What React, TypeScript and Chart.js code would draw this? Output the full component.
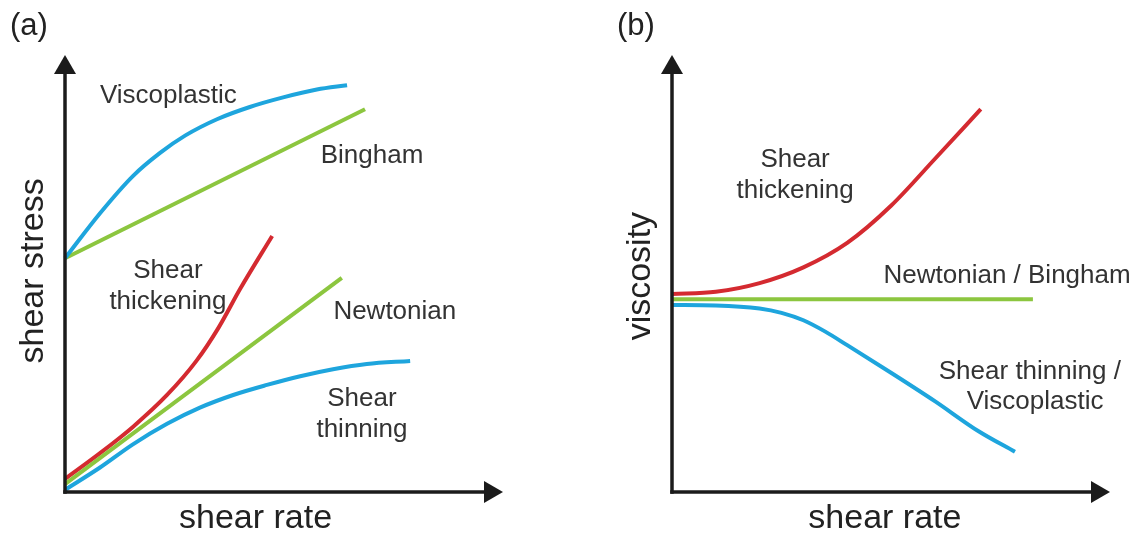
import React, { useEffect, useRef } from "react";
import { Chart, registerables } from "chart.js";

Chart.register(...registerables);

// ---------- Panel (a): shear stress vs shear rate ----------
const viscoplasticX = [0, 8.0, 15.5, 21.7, 27.5, 34.7, 42.2, 49.8, 57.5, 64.4];
const viscoplasticY = [53.5, 63.8, 72.3, 77.6, 81.6, 85.3, 88.1, 90.3, 92.1, 93.1];
const binghamX = [0, 68.5];
const binghamY = [53.5, 87.6];
const thickeningAX = [0, 8.0, 15.5, 23.3, 30.0, 35.0, 40.0, 47.3];
const thickeningAY = [3.0, 8.9, 14.9, 22.2, 30.0, 37.5, 46.5, 58.6];
const newtonianX = [0, 63.2];
const newtonianY = [1.8, 49.0];
const thinningAX = [0, 8.0, 15.5, 23.3, 30.8, 38.4, 46.1, 53.7, 61.2, 68.9, 78.8];
const thinningAY = [0.5, 5.6, 10.9, 15.6, 19.3, 22.2, 24.5, 26.5, 28.1, 29.3, 30.0];

// ---------- Panel (b): viscosity vs shear rate ----------
const thickeningBX = [0, 10, 20, 30, 40, 50, 60, 70.5];
const thickeningBY = [45.3, 45.8, 47.8, 51.4, 57.0, 65.5, 76.2, 87.6];
const newtonianBX = [0, 82.4];
const newtonianBY = [44.1, 44.1];
const thinningBX = [0, 10, 20, 25, 30, 35, 40, 50, 60, 70, 78.3];
const thinningBY = [42.8, 42.7, 42.0, 41.0, 39.3, 36.7, 33.6, 27.3, 20.8, 13.9, 9.2];

// ---------- Text ----------
const labelsA = [
  { text: "Viscoplastic", x: 23.6, y: 89.0 },
  { text: "Bingham", x: 70.1, y: 75.3 },
  { text: "Shear", x: 23.5, y: 49.0 },
  { text: "thickening", x: 23.5, y: 41.9 },
  { text: "Newtonian", x: 75.3, y: 39.6 },
  { text: "Shear", x: 67.8, y: 19.7 },
  { text: "thinning", x: 67.8, y: 12.6 },
];
const labelsB = [
  { text: "Shear", x: 28.1, y: 74.4 },
  { text: "thickening", x: 28.1, y: 67.3 },
  { text: "Newtonian / Bingham", x: 76.5, y: 47.8 },
  { text: "Shear thinning /", x: 81.7, y: 25.9 },
  { text: "Viscoplastic", x: 82.9, y: 18.9 },
];

const BLUE = "#1ea5dd";
const RED = "#d42a30";
const GREEN = "#8cc63f";
const FONT = '"Liberation Sans", Arial, Helvetica, sans-serif';

const zip = (xs: number[], ys: number[]) => xs.map((x, i) => ({ x, y: ys[i] }));

const decorPlugin = {
  id: "decor",
  afterDatasetsDraw(chart: any, _args: any, opts: any) {
    const { ctx, chartArea, scales } = chart;
    const { left, right, top, bottom } = chartArea;
    const xs = scales.x;
    const ys = scales.y;
    ctx.save();
    // axes with arrowheads
    const lw = 3.5;
    ctx.strokeStyle = "#1b1b1b";
    ctx.fillStyle = "#1b1b1b";
    ctx.lineWidth = lw;
    ctx.lineCap = "butt";
    ctx.beginPath();
    ctx.moveTo(left, bottom + lw / 2);
    ctx.lineTo(left, top + 16);
    ctx.stroke();
    ctx.beginPath();
    ctx.moveTo(left - lw / 2, bottom);
    ctx.lineTo(right - 16, bottom);
    ctx.stroke();
    ctx.beginPath();
    ctx.moveTo(left, top);
    ctx.lineTo(left - 11, top + 19);
    ctx.lineTo(left + 11, top + 19);
    ctx.closePath();
    ctx.fill();
    ctx.beginPath();
    ctx.moveTo(right, bottom);
    ctx.lineTo(right - 19, bottom - 11);
    ctx.lineTo(right - 19, bottom + 11);
    ctx.closePath();
    ctx.fill();

    // curve labels
    ctx.fillStyle = "#333333";
    ctx.font = `26px ${FONT}`;
    ctx.textAlign = "center";
    ctx.textBaseline = "alphabetic";
    for (const l of opts.labels) {
      ctx.fillText(l.text, xs.getPixelForValue(l.x), ys.getPixelForValue(l.y));
    }

    // axis titles
    ctx.fillStyle = "#222222";
    ctx.font = `34px ${FONT}`;
    ctx.fillText(opts.xTitle, xs.getPixelForValue(opts.xTitlePos), bottom + 36);
    ctx.save();
    ctx.translate(left - 22, ys.getPixelForValue(opts.yTitlePos));
    ctx.rotate(-Math.PI / 2);
    ctx.fillText(opts.yTitle, 0, 0);
    ctx.restore();

    // panel letter
    ctx.font = `31px ${FONT}`;
    ctx.textAlign = "left";
    ctx.fillText(opts.panel, left - 55, top - 20);
    ctx.restore();
  },
};

function makeDataset(xs: number[], ys: number[], color: string) {
  return {
    data: zip(xs, ys),
    borderColor: color,
    backgroundColor: color,
    borderWidth: 4,
    pointRadius: 0,
    cubicInterpolationMode: "monotone" as const,
    fill: false,
    clip: false as any,
  };
}

function makeConfig(datasets: any[], padding: any, decor: any): any {
  return {
    type: "line",
    data: { datasets },
    options: {
      responsive: false,
      animation: false,
      devicePixelRatio: 1,
      layout: { padding },
      plugins: {
        legend: { display: false },
        tooltip: { enabled: false },
        decor,
      },
      scales: {
        x: { type: "linear", min: 0, max: 100, display: false },
        y: { type: "linear", min: 0, max: 100, display: false },
      },
    },
    plugins: [decorPlugin],
  };
}

export default function App() {
  const refA = useRef<HTMLCanvasElement>(null);
  const refB = useRef<HTMLCanvasElement>(null);

  useEffect(() => {
    const chartA = new Chart(
      refA.current as HTMLCanvasElement,
      makeConfig(
        [
          makeDataset(viscoplasticX, viscoplasticY, BLUE),
          makeDataset(binghamX, binghamY, GREEN),
          makeDataset(thinningAX, thinningAY, BLUE),
          makeDataset(newtonianX, newtonianY, GREEN),
          makeDataset(thickeningAX, thickeningAY, RED),
        ],
        { left: 65, top: 55, right: 65, bottom: 43 },
        {
          labels: labelsA,
          xTitle: "shear rate",
          xTitlePos: 43.5,
          yTitle: "shear stress",
          yTitlePos: 50.6,
          panel: "(a)",
        }
      )
    );
    const chartB = new Chart(
      refB.current as HTMLCanvasElement,
      makeConfig(
        [
          makeDataset(thinningBX, thinningBY, BLUE),
          makeDataset(newtonianBX, newtonianBY, GREEN),
          makeDataset(thickeningBX, thickeningBY, RED),
        ],
        { left: 104, top: 55, right: 26, bottom: 43 },
        {
          labels: labelsB,
          xTitle: "shear rate",
          xTitlePos: 48.6,
          yTitle: "viscosity",
          yTitlePos: 49.4,
          panel: "(b)",
        }
      )
    );
    return () => {
      chartA.destroy();
      chartB.destroy();
    };
  }, []);

  return (
    <div
      style={{
        position: "fixed",
        left: 0,
        top: 0,
        width: 1136,
        height: 535,
        background: "#ffffff",
        overflow: "hidden",
      }}
    >
      <canvas
        ref={refA}
        width={568}
        height={535}
        style={{ position: "absolute", left: 0, top: 0, width: 568, height: 535 }}
      />
      <canvas
        ref={refB}
        width={568}
        height={535}
        style={{ position: "absolute", left: 568, top: 0, width: 568, height: 535 }}
      />
    </div>
  );
}
